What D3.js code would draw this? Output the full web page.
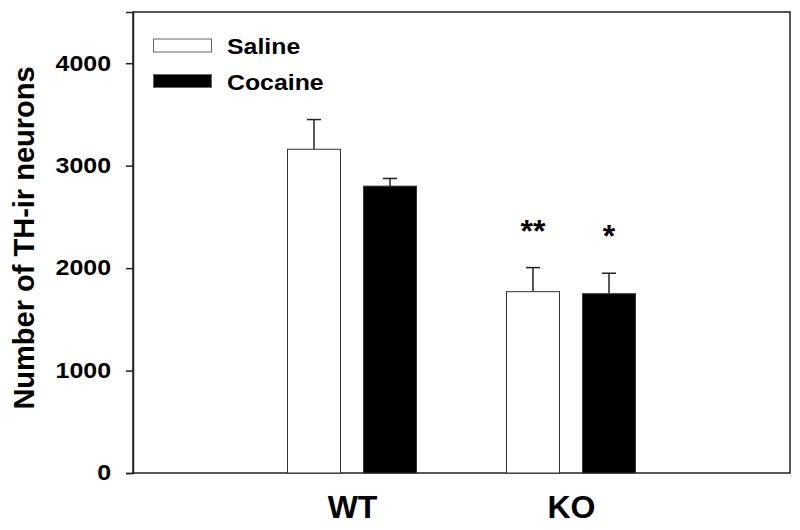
<!DOCTYPE html>
<html><head><meta charset="utf-8">
<script src="https://cdn.jsdelivr.net/npm/d3@7"></script>
<style>body{margin:0;background:#fff}svg{display:block}text{font-family:"Liberation Sans",Arial,sans-serif;font-weight:bold;fill:#000}</style>
</head><body><svg id="c" width="800" height="530"></svg>
<script>
const groups = ["WT", "KO"];
const series = ["Saline", "Cocaine"];
const means = { Saline: [3160, 1770], Cocaine: [2800, 1750] };
const errors = { Saline: [290, 235], Cocaine: [75, 200] };
const marks = { Saline: ["", "**"], Cocaine: ["", "*"] };
const yTicks = [0, 1000, 2000, 3000, 4000];
const fills = { Saline: "#fff", Cocaine: "#000" };

const svg = d3.select("#c");
const L = 133, R = 790, T = 12, B = 473;
const y = d3.scaleLinear().domain([0, 4500]).range([B, T]);
const x = d3.scalePoint().domain(groups).range([L, R]).padding(1);
const xs = d3.scaleBand().domain(series).range([-64.5, 64.5]).paddingInner(0.303);

// frame
svg.append("rect").attr("x", L).attr("y", T).attr("width", R - L).attr("height", B - T)
  .attr("fill", "none").attr("stroke", "#222").attr("stroke-width", 1.5);

// y axis
const sx = 1.16;
const ya = svg.append("g").attr("transform", `translate(${L},0)`)
  .call(d3.axisLeft(y).tickValues(yTicks).tickSize(7).tickPadding(15).tickFormat(d3.format("d")));
ya.select(".domain").attr("stroke", "#222").attr("stroke-width", 1.5);
ya.selectAll(".tick line").attr("stroke", "#222").attr("stroke-width", 1.5);
ya.selectAll(".tick text")
  .style("font-size", "21.5px").style("font-family", "'Liberation Sans',Arial,sans-serif").style("font-weight", "bold")
  .attr("fill", "#000").attr("x", -22 / sx).attr("transform", `scale(${sx},1)`);

// x axis labels
const xa = svg.append("g").attr("transform", `translate(0,${B})`)
  .call(d3.axisBottom(x).tickSize(0).tickPadding(22));
xa.select(".domain").remove();
xa.selectAll(".tick text").style("font-size", "32px").style("font-family", "'Liberation Sans',Arial,sans-serif").style("font-weight", "bold").attr("fill", "#000");

// y title
svg.append("text").attr("transform", `translate(34,238) rotate(-90)`)
  .attr("text-anchor", "middle").style("font-size", "29px").text("Number of TH-ir neurons");

// bars
series.forEach(s => {
  const g = svg.append("g");
  groups.forEach((grp, i) => {
    const bx = x(grp) + xs(s), bw = xs.bandwidth(), cx = bx + bw / 2;
    const top = y(means[s][i]), et = y(means[s][i] + errors[s][i]);
    g.append("line").attr("x1", cx).attr("x2", cx).attr("y1", top).attr("y2", et).attr("stroke", "#222").attr("stroke-width", 1.5);
    g.append("line").attr("x1", cx - 7).attr("x2", cx + 7).attr("y1", et).attr("y2", et).attr("stroke", "#222").attr("stroke-width", 1.5);
    g.append("rect").attr("x", bx).attr("y", top).attr("width", bw).attr("height", B - top)
      .attr("fill", fills[s]).attr("stroke", "#333").attr("stroke-width", 1);
    if (marks[s][i]) {
      g.append("text").attr("x", cx).attr("y", et - 26).attr("text-anchor", "middle")
        .style("font-size", "32px").text(marks[s][i]);
    }
  });
});

// legend
const lsx = 1.13;
const lg = svg.append("g");
series.forEach((s, i) => {
  const yy = 45.5 + i * 35.5;
  lg.append("rect").attr("x", 153.5).attr("y", yy - 6.5).attr("width", 58).attr("height", 13)
    .attr("fill", fills[s]).attr("stroke", "#666").attr("stroke-width", 1);
  lg.append("text").attr("x", 227 / lsx).attr("y", yy + 8.8).attr("transform", `scale(${lsx},1)`)
    .style("font-size", "22px").text(s);
});
</script></body></html>
